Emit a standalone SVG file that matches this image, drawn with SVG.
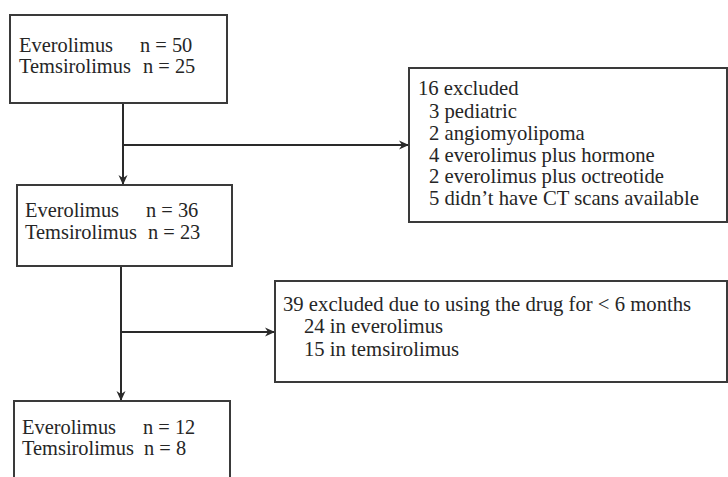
<svg xmlns="http://www.w3.org/2000/svg" width="728" height="477" viewBox="0 0 728 477">
<style>
.box{fill:#fff;stroke:#3a3a3a;stroke-width:2}
.t{font-family:"Liberation Serif","Times New Roman",serif;font-size:20.4px;fill:#262626}
.w{font-size:20.7px}
.c{fill:none;stroke:#2a2a2a;stroke-width:2}
</style>
<defs>
<marker id="arr" markerUnits="userSpaceOnUse" markerWidth="12" markerHeight="10" refX="10" refY="5" orient="auto">
<path d="M0,0.5 L10,5 L0,9.5 L3,5 Z" fill="#2a2a2a"/>
</marker>
</defs>
<rect width="728" height="477" fill="#fff"/>
<g id="connectors">
<line class="c" x1="123" y1="103" x2="123" y2="185" marker-end="url(#arr)"/>
<line class="c" x1="123" y1="145" x2="409" y2="145" marker-end="url(#arr)"/>
<line class="c" x1="121" y1="266" x2="121" y2="401" marker-end="url(#arr)"/>
<line class="c" x1="121" y1="332" x2="275" y2="332" marker-end="url(#arr)"/>
</g>
<g id="start">
<rect class="box" x="10" y="15" width="217" height="88"/>
<text class="t" x="19" y="52">Everolimus</text><text class="t" x="140" y="52">n = 50</text>
<text class="t" x="19" y="73">Temsirolimus</text><text class="t" x="143" y="73">n = 25</text>
</g>
<g id="excluded1">
<rect class="box" x="409" y="68" width="318" height="154"/>
<text class="t w" x="418" y="95">16 excluded</text>
<text class="t w" x="429" y="118">3 pediatric</text>
<text class="t w" x="429" y="140">2 angiomyolipoma</text>
<text class="t w" x="429" y="162">4 everolimus plus hormone</text>
<text class="t w" x="429" y="183">2 everolimus plus octreotide</text>
<text class="t w" x="429" y="205">5 didn’t have CT scans available</text>
</g>
<g id="middle">
<rect class="box" x="17" y="185" width="215" height="81"/>
<text class="t" x="25" y="217">Everolimus</text><text class="t" x="146" y="217">n = 36</text>
<text class="t" x="25" y="239">Temsirolimus</text><text class="t" x="148" y="239">n = 23</text>
</g>
<g id="excluded2">
<rect class="box" x="275" y="281" width="452" height="101"/>
<text class="t w" x="283" y="311">39 excluded due to using the drug for &lt; 6 months</text>
<text class="t w" x="304" y="333">24 in everolimus</text>
<text class="t w" x="304" y="356">15 in temsirolimus</text>
</g>
<g id="final">
<rect class="box" x="14" y="401" width="216" height="90"/>
<text class="t" x="22" y="434">Everolimus</text><text class="t" x="143" y="434">n = 12</text>
<text class="t" x="22" y="455">Temsirolimus</text><text class="t" x="144" y="455">n = 8</text>
</g>
</svg>
